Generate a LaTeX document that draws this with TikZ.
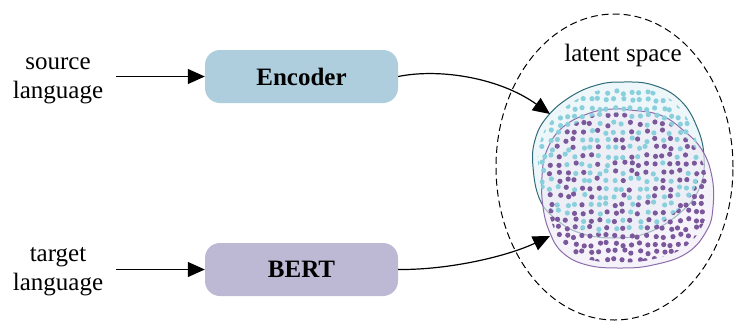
\documentclass[tikz,border=0pt]{standalone}
\usepackage{fontspec}
\setmainfont{Liberation Serif}
\usetikzlibrary{arrows.meta,shapes.geometric}

\definecolor{encfill}{HTML}{AECEDD}
\definecolor{bertfill}{HTML}{BDB8D4}
\definecolor{dotblue}{HTML}{8ACFDC}
\definecolor{dotpurple}{HTML}{7A589B}
\definecolor{edgeblue}{HTML}{2E6B78}
\definecolor{edgepurple}{HTML}{8C6CAC}
\definecolor{areablue}{HTML}{EDF6F9}
\definecolor{areapurple}{HTML}{EFEBF5}

\newcommand\langfont{\fontsize{25}{29}\selectfont}
\newcommand\dotstep{8}
\newcommand\dotsize{2.6}
\newcommand\dotjitter{2}
% outlines of the two embedding clouds
\newcommand\blueblob{plot[smooth cycle, tension=0.7] coordinates {(623,82) (653,85) (680,100) (697,127) (704,157) (700,187) (680,213) (647,233) (613,238) (580,233) (557,220) (540,200) (533,167) (535,140) (547,117) (570,97) (597,85)}}
\newcommand\purpleblob{plot[smooth cycle, tension=0.7] coordinates {(630,110) (660,115) (683,130) (702,150) (712,177) (713,207) (707,230) (687,253) (653,265) (620,268) (587,265) (563,253) (550,233) (543,207) (542,177) (547,150) (563,127) (590,113) (613,109)}}
% jittered dot grid, same seed every time; a dot is blue when its draw is below #1
\newcommand\dotfield[1]{
  \pgfmathsetseed{42}
  \foreach \i in {0,...,24}{
    \foreach \j in {0,...,24}{
      \pgfmathsetmacro\dx{\dotjitter*rand}
      \pgfmathsetmacro\dy{\dotjitter*rand}
      \pgfmathtruncatemacro\isblue{rand < #1}
      \ifnum\isblue=1 \def\dotcol{dotblue}\else\def\dotcol{dotpurple}\fi
      \fill[\dotcol] (527 + \i*\dotstep + \dx, 76 + \j*\dotstep + \dy) circle (\dotsize);
    }
  }
}

\tikzset{
  langtext/.style={font=\langfont, inner sep=2pt},
  encbox/.style={rounded corners=15pt, minimum width=193, minimum height=53, font=\langfont\bfseries},
  feed/.style={-{Triangle[length=17pt,width=15pt]}, line width=1.2pt},
  shrink/.style={shift={(622,175)}, scale=.94, shift={(-622,-175)}}
}

\begin{document}
\begin{tikzpicture}[x=1pt, y=-1pt]
  \useasboundingbox (0,0) rectangle (734,322);

  \node[langtext] (src) at (58,78) {\begin{tabular}{@{}c@{}}source\\language\end{tabular}};
  \node[langtext] (tgt) at (58,270.5) {\begin{tabular}{@{}c@{}}target\\language\end{tabular}};
  \node[encbox, fill=encfill] (enc) at (301.5,76.5) {Encoder};
  \node[encbox, fill=bertfill] (bert) at (301.5,269.5) {BERT};

  \node[ellipse, draw, dash pattern=on 7pt off 4pt, line width=1pt, inner sep=0pt,
        minimum width=237, minimum height=306] (space) at (614.5,167) {};
  \node[font=\langfont] (spacelabel) at (623,55) {latent space};

  % the two clouds
  \fill[areablue] \blueblob;
  \draw[edgeblue, line width=1pt] \blueblob;
  \fill[areapurple, opacity=.6] \purpleblob;
  \draw[edgepurple, line width=1pt] \purpleblob;
  \begin{scope}[even odd rule] % blue only
    \clip[shrink] \blueblob;
    \clip[shrink] \blueblob \purpleblob;
    \dotfield{2}
  \end{scope}
  \begin{scope}[even odd rule] % purple only
    \clip[shrink] \purpleblob;
    \clip[shrink] \blueblob \purpleblob;
    \dotfield{-2}
  \end{scope}
  \begin{scope} % both
    \clip[shrink] \blueblob;
    \clip[shrink] \purpleblob;
    \dotfield{-0.1}
  \end{scope}

  \coordinate (encin) at (550,114);
  \coordinate (bertin) at (550,236);

  \draw[feed, shorten <=11pt] (src.east |- enc.west) -- (enc.west);
  \draw[feed, shorten <=11pt] (tgt.east |- bert.west) -- (bert.west);
  \draw[feed] (enc.east) .. controls (440,68) and (500,78) .. (encin);
  \draw[feed] (bert.east) .. controls (450,270) and (508,256) .. (bertin);
\end{tikzpicture}
\end{document}
